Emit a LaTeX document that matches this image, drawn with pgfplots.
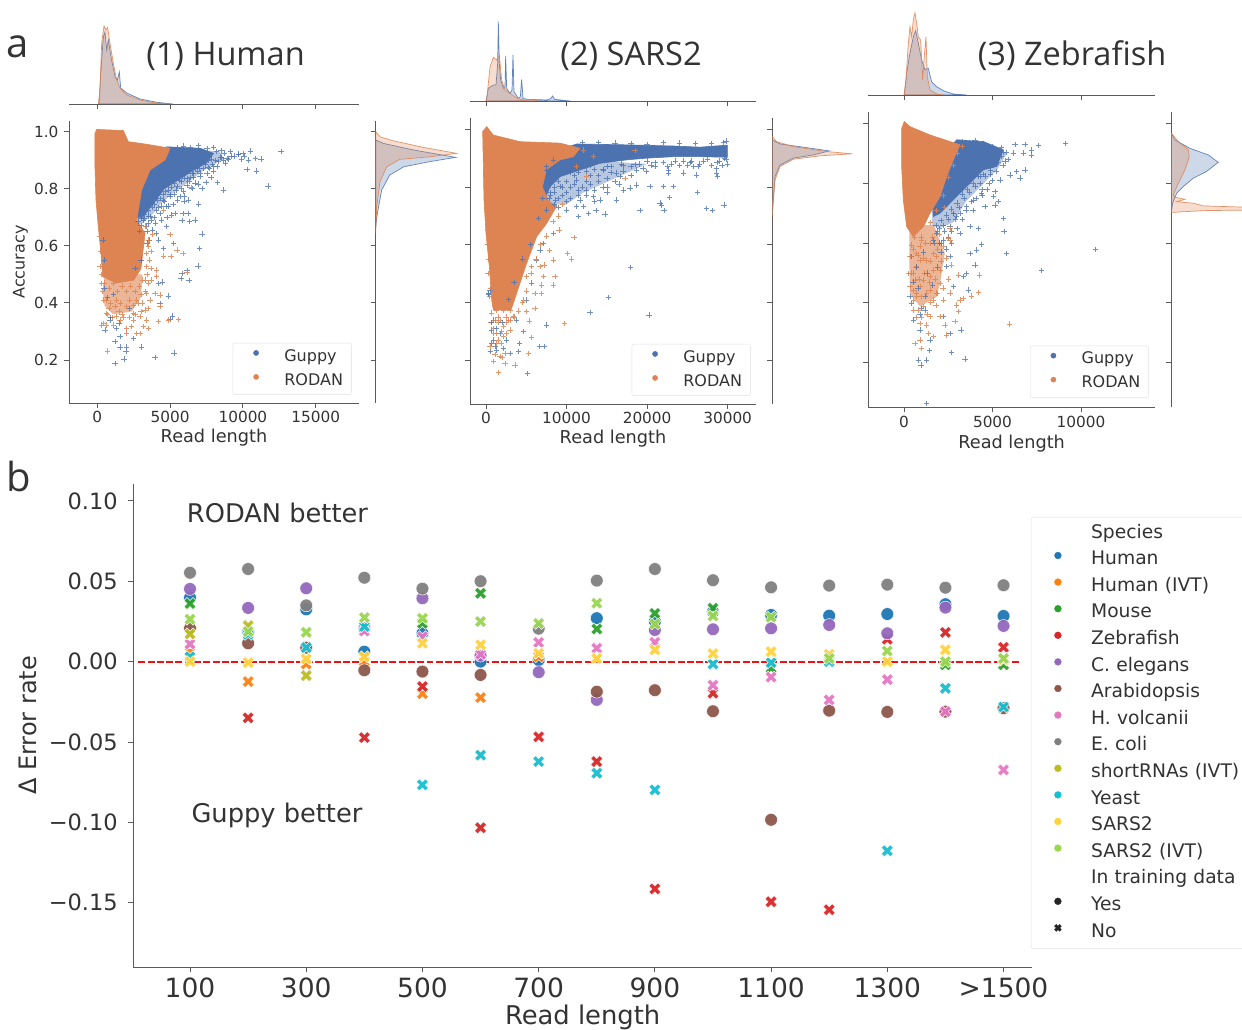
\documentclass[border=0pt]{standalone}
\usepackage{fontspec}
\setmainfont{DejaVu Sans}
\newfontfamily\osans{Open Sans}
\usepackage{pgfplots}
\pgfplotsset{compat=1.18}
\definecolor{txt}{HTML}{333333}
\definecolor{spine}{HTML}{5A5A5A}
\definecolor{gb}{HTML}{4C72B0}
\definecolor{ro}{HTML}{DD8452}
\definecolor{dashred}{HTML}{F41010}
\definecolor{cHuman}{HTML}{1F77B4}
\definecolor{cHIVT}{HTML}{FF7F0E}
\definecolor{cMouse}{HTML}{2CA02C}
\definecolor{cZebra}{HTML}{D62728}
\definecolor{cCel}{HTML}{9467BD}
\definecolor{cArab}{HTML}{8C564B}
\definecolor{cHvol}{HTML}{E377C2}
\definecolor{cEcoli}{HTML}{7F7F7F}
\definecolor{cShort}{HTML}{BCBD22}
\definecolor{cYeast}{HTML}{17BECF}
\definecolor{cSars}{HTML}{FFD23F}
\definecolor{cSarsI}{HTML}{9AD64E}
\pgfdeclareplotmark{bigX}{%
 \pgfpathmoveto{\pgfqpoint{-.5\pgfplotmarksize}{-1\pgfplotmarksize}}%
 \pgfpathlineto{\pgfqpoint{0pt}{-.5\pgfplotmarksize}}%
 \pgfpathlineto{\pgfqpoint{.5\pgfplotmarksize}{-1\pgfplotmarksize}}%
 \pgfpathlineto{\pgfqpoint{1\pgfplotmarksize}{-.5\pgfplotmarksize}}%
 \pgfpathlineto{\pgfqpoint{.5\pgfplotmarksize}{0pt}}%
 \pgfpathlineto{\pgfqpoint{1\pgfplotmarksize}{.5\pgfplotmarksize}}%
 \pgfpathlineto{\pgfqpoint{.5\pgfplotmarksize}{1\pgfplotmarksize}}%
 \pgfpathlineto{\pgfqpoint{0pt}{.5\pgfplotmarksize}}%
 \pgfpathlineto{\pgfqpoint{-.5\pgfplotmarksize}{1\pgfplotmarksize}}%
 \pgfpathlineto{\pgfqpoint{-1\pgfplotmarksize}{.5\pgfplotmarksize}}%
 \pgfpathlineto{\pgfqpoint{-.5\pgfplotmarksize}{0pt}}%
 \pgfpathlineto{\pgfqpoint{-1\pgfplotmarksize}{-.5\pgfplotmarksize}}%
 \pgfpathclose\pgfusepathqfillstroke}
\pgfplotsset{
 base/.style={scale only axis, axis line style={spine,line width=.9pt},
  tick style={spine,line width=.9pt}, major tick length=5pt, tick align=outside,
  clip=true, scaled ticks=false},
 main/.style={base, axis x line*=bottom, axis y line*=left,
  x tick label style={font=\fontsize{15.3}{18}\selectfont,text=txt},
  y tick label style={font=\fontsize{15.3}{18}\selectfont,text=txt,xshift=-2pt},
  xlabel style={font=\fontsize{17.7}{20}\selectfont,text=txt,at={(axis description cs:0.5,-.122)},anchor=center},
  ylabel style={font=\fontsize{16}{20}\selectfont,text=txt},
  legend cell align=left,
  legend image code/.code={\path (-23pt,0pt) (28pt,0pt); \draw[##1] plot coordinates {(0pt,4pt)};},
  legend style={anchor=north west,draw=black!12,rounded corners=2pt,fill=white,
   inner xsep=0pt, inner ysep=6pt, row sep=8.5pt, font=\fontsize{16}{18}\selectfont,text=txt,
   nodes={inner sep=0pt,text height=12pt,text depth=3.5pt,text width=67pt}}},
 gdot/.style={only marks,mark=*,mark size=2.6pt,mark options={draw=gb,fill=gb}},
 rdot/.style={only marks,mark=*,mark size=2.6pt,mark options={draw=ro,fill=ro}},
 plusb/.style={only marks,mark=+,mark size=2.7pt,mark options={draw=gb,line width=.6pt},opacity=.8,forget plot},
 pluso/.style={only marks,mark=+,mark size=2.7pt,mark options={draw=ro,line width=.6pt},opacity=.85,forget plot},
 solb/.style={fill=gb,draw=gb,line width=.6pt,forget plot},
 solo/.style={fill=ro,draw=ro,line width=.6pt,forget plot},
 kb/.style={fill=gb,fill opacity=.28,draw=gb,draw opacity=.85,line width=.7pt},
 ko/.style={fill=ro,fill opacity=.28,draw=ro,draw opacity=.85,line width=.7pt},
 top/.style={base, axis x line*=bottom, axis y line=none, ymin=0, ymax=100, height=100pt,
   xticklabels={}, ytick=\empty},
 rgt/.style={base, axis y line*=left, axis x line=none, xmin=0, xmax=90, width=90pt,
   yticklabels={}, xtick=\empty, ytick={.2,.4,.6,.8,1}},
 spO/.style={only marks,mark=*,mark size=6.4pt,mark options={fill=#1,draw=white,line width=.5pt},opacity=.95,forget plot},
 spX/.style={only marks,mark=bigX,mark size=6pt,mark options={fill=#1,draw=white,line width=.5pt},opacity=.95,forget plot},
 lgO/.style={only marks,mark=*,mark size=3.4pt,mark options={fill=#1,draw=#1}},
}
\begin{document}
\begin{tikzpicture}[x=1pt,y=1pt]
\path[use as bounding box,clip] (0,0) rectangle (1242pt,1029pt);

% ================= PANEL 1 =================
\begin{axis}[main, at={(69pt,626pt)}, anchor=south west, width=290pt, height=282pt,
 xmin=-1944, xmax=17974, ymin=.0494, ymax=1.0375,
 xtick={0,5000,10000,15000}, xticklabels={0,5000,10000,15000},
 ytick={.2,.4,.6,.8,1}, yticklabels={0.2,0.4,0.6,0.8,1.0},
 xlabel={Read length}, ylabel={Accuracy},
 ylabel style={at={(axis description cs:-.167,.5)},anchor=center},
 legend style={at={(.5645,.2128)}}]
\addplot[solb,fill opacity=.4,draw=none] coordinates {(5000,.945)(8400,.93)(8700,.905)(7300,.865)(6300,.825)(5200,.785)(4300,.745)(3700,.705)(3000,.675)(2000,.7)(2000,.9)} --cycle;
\addplot[solb] coordinates {(4772,.947)(7065,.942)(7983,.924)(7500,.89)(6600,.865)(5700,.835)(4600,.80)(3800,.745)(3100,.70)(2000,.7)(2000,.9)} --cycle;
\addplot[plusb] coordinates {(12617,.931)(11722,.810)(10942,.862)(10277,.868)(11241,.904)(10851,.907)(10392,.901)(10507,.933)(10002,.924)(9704,.922)(9130,.930)(8671,.796)(8258,.821)(7478,.821)(6951,.817)(6263,.761)(5964,.755)(6951,.746)(5873,.714)(6217,.714)(5116,.708)(5345,.714)(6721,.690)(6331,.685)(5804,.688)(7180,.641)(7020,.591)(5230,.609)(4542,.591)(4772,.667)(3808,.655)(4083,.644)(6905,.530)(6148,.513)(5804,.504)(5758,.485)(6309,.478)(4473,.473)(4886,.424)(4313,.398)(4198,.468)(5162,.354)(5001,.342)(3051,.246)(3969,.209)(5276,.225)(1216,.188)(1835,.204)(1973,.229)(1216,.264)(2019,.246)(2478,.276)(1560,.246)(528,.305)(872,.340)(1331,.311)(1560,.282)(8442,.912)(7983,.877)(8901,.907)(7524,.854)(7065,.842)(6607,.854)(6148,.813)(5460,.807)(5001,.772)(4542,.761)(4083,.725)(3625,.702)(3166,.690)(3395,.667)(4313,.714)(4772,.737)(5689,.772)(6836,.877)(8213,.877)(8671,.901)(7524,.942)(6951,.951)(9000,.905)(8500,.935)(8000,.945)(9400,.915)(7600,.900)(7300,.870)(6700,.820)(6400,.840)(5900,.790)(5300,.780)(4900,.815)(4400,.740)(3900,.700)(3500,.680)(3000,.672)(2900,.650)(8200,.93)(8700,.925)(9200,.915)(8800,.89)(8300,.895)(7800,.905)(7300,.92)(6800,.93)(6400,.945)(5900,.95)(5500,.945)(8000,.86)(7600,.875)(7100,.855)(6700,.87)(6200,.835)(5800,.825)(5300,.82)(4900,.795)(4500,.78)(4100,.76)(3800,.735)(3500,.725)(3200,.71)(3000,.695)(2800,.685)(3700,.755)(5600,.85)(6000,.86)(7300,.90)(8500,.91)(9700,.92)(10100,.915)(9900,.905)(8100,.90)(7000,.895)(6500,.885)(7900,.885)(7400,.885)(6900,.86)(6500,.855)(6000,.835)(5600,.83)(5100,.805)(4700,.79)(4300,.765)(3900,.745)(3500,.705)(3200,.695)(5400,.795)(5000,.78)(4600,.755)(4200,.735)(6300,.825)(5800,.80)(7000,.87)(7700,.87)(6600,.84)(5500,.76)(4900,.74)(3700,.69)(4000,.68)(4400,.69)(4800,.70)(5200,.745)(6000,.775)(6500,.80)(7200,.80)(7800,.84)(3400,.65)(3600,.62)(4200,.62)};
\addplot[solo,fill opacity=.6,draw=none] coordinates {(528,.50)(367,.45)(500,.39)(1101,.36)(2363,.37)(3000,.42)(3100,.50)} --cycle;
\addplot[solo] coordinates {(-160,.994)(-160,.877)(-92,.761)(69,.667)(252,.574)(367,.492)(1300,.47)(2500,.48)(3000,.52)(3280,.644)(2707,.690)(3051,.796)(3625,.866)(4657,.901)(5001,.942)(3395,.956)(2133,.965)(1789,1.004)(-46,1.008)} --cycle;
\addplot[pluso] coordinates {(711,.232)(4198,.334)(4886,.340)(5574,.342)(3510,.311)(2707,.293)(2019,.311)(1101,.322)(413,.328)(298,.322)(2936,.293)(2019,.293)(3395,.340)(3280,.375)(4313,.387)(4313,.428)(3969,.433)(3395,.433)(5460,.585)(5873,.574)(5070,.562)(4542,.564)(5001,.640)(6148,.506)(6423,.805)(4542,.725)(4083,.492)(4083,.515)(3395,.574)(3395,.527)(3739,.480)(1560,.340)(2478,.340)(2936,.352)(1331,.352)(642,.363)(413,.410)(298,.468)(184,.527)(184,.632)(2478,.363)(3625,.410)(3166,.317)(2363,.317)(642,.322)(1216,.387)(2019,.387)(2707,.410)(3500,.600)(3700,.520)(3300,.480)(3000,.430)(3500,.380)(1700,.360)(800,.380)(3800,.640)(500,.47)(800,.45)(1100,.47)(1400,.44)(1700,.46)(2000,.44)(2300,.46)(2600,.44)(2900,.46)(3100,.48)(600,.41)(900,.40)(1300,.41)(1600,.40)(2200,.41)(2500,.39)(2800,.40)(3100,.40)(3300,.44)(3500,.47)(700,.36)(1000,.35)(1500,.37)(1800,.35)(2200,.35)(2600,.36)(3000,.37)(3400,.50)(3600,.55)(3500,.62)(3300,.67)(3700,.58)(550,.53)(450,.56)(350,.60)(200,.58)(300,.50)(350,.44)};
\addplot[plusb] coordinates {(400,.62)(500,.55)(450,.45)(700,.42)(900,.35)(1100,.43)(2600,.52)(1500,.33)(2200,.38)(3000,.55)(3400,.61)};
\addlegendimage{gdot}\addlegendentry{Guppy}
\addlegendimage{rdot}\addlegendentry{RODAN}
\end{axis}

\begin{axis}[top, at={(69pt,925pt)}, anchor=south west, width=290pt,
 xmin=-1944, xmax=17974, xtick={0,5000,10000,15000}]
\addplot[kb] coordinates {(115,0)(252,34)(413,67)(528,72)(642,54)(757,64)(941,47)(1216,27)(1376,24)(1514,32)(1606,16)(2019,11)(2936,5)(4083,1.7)(5001,.3)(5200,0)} --cycle;
\addplot[ko] coordinates {(69,0)(184,14)(298,60.7)(459,78)(596,74)(711,76.7)(872,60.7)(1101,40.7)(1331,24)(1560,15.7)(2019,9)(2936,4)(3854,1.3)(4772,.3)(5000,0)} --cycle;
\end{axis}

\begin{axis}[rgt, at={(375.7pt,626pt)}, anchor=south west, height=282pt, ymin=.0494, ymax=1.0375]
\addplot[kb] coordinates {(0,.971)(7.7,.959)(37.7,.936)(80,.910)(54,.895)(28,.877)(14,.848)(6,.796)(1.7,.714)(0,.667)} --cycle;
\addplot[ko] coordinates {(0,1)(4.3,.982)(17.7,.968)(47.7,.945)(81,.924)(54,.912)(24,.903)(11,.877)(4.3,.825)(1,.737)(0,.644)} --cycle;
\end{axis}

% ================= PANEL 2 =================
\begin{axis}[main, at={(470.3pt,625pt)}, anchor=south west, width=285.4pt, height=286pt,
 xmin=-1949, xmax=33482, ymin=.0485, ymax=1.039,
 xtick={0,10000,20000,30000}, xticklabels={0,10000,20000,30000},
 ytick={.2,.4,.6,.8,1}, yticklabels={},
 xlabel={Read length},
 legend style={at={(.5655,.2098)}}]
\addplot[solb,fill opacity=.4,draw=none] coordinates {(6000,.90)(14000,.89)(20000,.88)(16000,.83)(12000,.78)(10000,.74)(7000,.74)} --cycle;
\addplot[solb] coordinates {(11255,.949)(17463,.946)(23255,.942)(26566,.938)(29959,.945)(29959,.903)(26566,.905)(23255,.905)(19945,.900)(17463,.894)(14152,.882)(11669,.859)(9186,.836)(7945,.801)(7117,.744)(5048,.732)(6000,.90)} --cycle;
\addplot[plusb] coordinates {(30000,.880)(28635,.865)(28635,.848)(28718,.836)(26360,.871)(25738,.871)(24497,.848)(26152,.842)(22635,.859)(22635,.848)(19945,.853)(18704,.859)(16221,.848)(16635,.836)(18704,.807)(20359,.801)(22014,.801)(23256,.801)(21600,.744)(22759,.763)(26235,.781)(29545,.738)(21807,.738)(22097,.718)(19118,.718)(27394,.726)(28097,.718)(14773,.706)(13655,.718)(12704,.709)(16221,.755)(17049,.790)(17876,.796)(14152,.755)(13324,.767)(11669,.755)(12083,.732)(11462,.697)(17959,.521)(15186,.417)(12911,.365)(20235,.357)(7531,.322)(6621,.247)(7241,.247)(4014,.230)(4138,.259)(4635,.299)(5131,.155)(2566,.270)(2152,.241)(579,.230)(703,.259)(910,.339)(290,.432)(497,.443)(5669,.467)(6704,.582)(6290,.547)(7117,.605)(8359,.640)(5048,.409)(3807,.339)(1738,.293)(2979,.224)(1324,.236)(703,.305)(9186,.801)(7531,.859)(8359,.894)(11255,.824)(12497,.790)(14566,.859)(11255,.732)(10014,.721)(15500,.870)(16800,.880)(18500,.878)(20500,.876)(22000,.885)(24500,.890)(25300,.885)(27000,.890)(28700,.885)(13000,.840)(14000,.820)(15000,.800)(10000,.780)(9000,.760)(29600,.900)(23000,.880)(12000,.870)(12000,.955)(14000,.955)(16000,.952)(18000,.95)(20000,.948)(22000,.955)(24000,.952)(26000,.95)(28000,.95)(29500,.955)(29800,.96)(13000,.875)(15000,.87)(17000,.875)(19000,.88)(21000,.885)(23500,.89)(25500,.89)(27500,.895)(29000,.89)(29800,.895)(10000,.86)(9000,.82)(8000,.78)(11000,.84)(12500,.82)(14500,.80)(10500,.80)(9500,.77)(8500,.74)(8500,.80)(13500,.79)(11500,.77)(16000,.82)(18000,.84)(7500,.87)(8500,.86)(9500,.85)(10500,.85)(11500,.85)(12500,.855)(13500,.86)(14500,.86)(15500,.85)(17000,.855)(18000,.87)(19500,.865)(8000,.83)(9000,.84)(10000,.82)(11000,.81)(12000,.80)(13000,.81)(14000,.84)(15000,.83)(16500,.81)(8500,.78)(9500,.80)(10500,.76)(11500,.79)(12500,.77)(13500,.75)(7800,.76)(9000,.73)(10000,.75)(15000,.78)(20000,.89)(21000,.87)(22500,.87)(24000,.875)(25000,.875)(26500,.88)(28000,.875)(29300,.875)(7000,.76)};
\addplot[solo] coordinates {(-414,.992)(83,1.009)(910,.980)(4221,.957)(9186,.952)(11669,.934)(10842,.905)(9186,.894)(7500,.86)(7000,.80)(7800,.75)(8800,.735)(7531,.674)(6290,.628)(5048,.536)(3807,.432)(3100,.374)(910,.374)(703,.409)(414,.524)(0,.640)(-248,.755)(-331,.871)} --cycle;
\addplot[pluso] coordinates {(10924,.625)(10097,.570)(10635,.551)(9062,.651)(8359,.547)(8566,.490)(8359,.461)(6911,.461)(6911,.432)(6083,.432)(5048,.368)(6083,.380)(5379,.336)(9724,.328)(3600,.184)(2359,.189)(1531,.157)(910,.195)(5255,.224)(497,.247)(1324,.293)(2152,.282)(5669,.279)(6704,.524)(7117,.490)(5669,.524)(5048,.490)(17256,.830)(13324,.905)(12083,.928)(18497,.926)(12497,.836)(11255,.871)(4635,.409)(1738,.339)(910,.311)(2566,.293)(2359,.224)(1738,.212)(703,.363)(1324,.374)(2152,.374)(2979,.374)(3393,.351)(910,.293)(1531,.270)(2152,.316)(2979,.305)(1117,.339)(2772,.339)(1945,.259)(600,.330)(1500,.330)(2500,.350)(1900,.300)(1300,.260)(1100,.220)(2000,.210)(250,.500)(150,.600)(400,.420)(9500,.74)(9000,.70)(8300,.68)(7500,.63)(6800,.60)(6200,.55)(5600,.50)(5000,.44)(4500,.40)(4000,.37)(600,.45)(500,.50)(300,.55)(200,.60)(150,.65)(1500,.35)(2500,.33)(3000,.34)(3500,.35)(7900,.58)(7200,.53)};
\addplot[plusb] coordinates {(300,.43)(700,.33)(1300,.31)(900,.27)(2000,.33)(1200,.25)(2800,.41)(3500,.47)(4500,.55)(5500,.60)(6500,.69)(7500,.72)(7700,.80)(8000,.77)(8600,.755)};
\addlegendimage{gdot}\addlegendentry{Guppy}
\addlegendimage{rdot}\addlegendentry{RODAN}
\end{axis}

\begin{axis}[top, at={(470.3pt,928pt)}, anchor=south west, width=285.4pt,
 xmin=-1949, xmax=33482, xtick={0,10000,20000,30000}]
\addplot[kb] coordinates {(0,0)(290,12.7)(910,16)(1241,16)(1448,37.7)(1531,79.3)(1655,37.7)(1821,21)(2152,12.7)(2359,14.3)(2441,45)(2566,12.7)(2979,7.7)(3228,11)(3352,46)(3476,9.3)(4014,2.7)(4262,4.3)(4428,21.7)(4593,2.7)(5048,1.7)(7531,1)(8028,2.3)(8276,5)(8524,1.7)(10014,.3)(10500,0)} --cycle;
\addplot[ko] coordinates {(0,0)(83,1)(497,34)(910,43.7)(1324,41)(1655,46)(1945,21)(2359,11)(2979,7.7)(3807,2.7)(4635,1)(5876,1.7)(6290,.7)(6500,0)} --cycle;
\end{axis}

\begin{axis}[rgt, at={(772.3pt,625pt)}, anchor=south west, height=286pt, ymin=.0485, ymax=1.039]
\addplot[kb] coordinates {(0,.963)(7.7,.949)(31,.938)(57,.925)(41,.911)(21,.900)(7.7,.876)(2.7,.836)(1,.755)(0,.709)} --cycle;
\addplot[ko] coordinates {(0,.975)(4.3,.957)(21,.940)(54,.923)(80,.915)(48,.908)(21,.896)(7.7,.871)(2.7,.824)(1,.755)(0,.697)} --cycle;
\end{axis}

% ================= PANEL 3 =================
\begin{axis}[main, at={(868.3pt,621.7pt)}, anchor=south west, width=286.7pt, height=295pt,
 xmin=-2015, xmax=14179, ymin=.049, ymax=1.039,
 xtick={0,5000,10000}, xticklabels={0,5000,10000},
 ytick={.2,.4,.6,.8,1}, yticklabels={},
 xlabel={Read length},
 legend style={at={(.564,.2088)}}]
\addplot[solb,fill opacity=.4,draw=none] coordinates {(3000,.95)(5000,.93)(5800,.90)(5300,.85)(4500,.80)(3500,.74)(2800,.67)(2000,.65)(1600,.66)(1500,.85)} --cycle;
\addplot[solb] coordinates {(2975,.946)(4482,.941)(5611,.913)(5235,.857)(4482,.846)(3540,.790)(2787,.745)(2034,.700)(1657,.689)(1500,.85)} --cycle;
\addplot[plusb] coordinates {(9133,.935)(7607,.927)(7212,.913)(7212,.896)(6835,.930)(6741,.902)(6270,.930)(6176,.902)(6835,.846)(6553,.818)(6365,.840)(5988,.829)(5423,.812)(5141,.773)(5046,.756)(5329,.739)(4576,.723)(5141,.728)(5611,.683)(5649,.639)(5800,.566)(10827,.579)(7777,.508)(4387,.596)(4199,.650)(3728,.655)(4105,.577)(3728,.566)(4011,.527)(3540,.499)(3351,.488)(2787,.454)(3634,.443)(3446,.211)(2693,.232)(1431,.239)(1280,.208)(810,.208)(960,.191)(1280,.062)(3220,.309)(2599,.297)(1469,.275)(904,.309)(527,.342)(433,.398)(339,.420)(433,.555)(2222,.353)(1186,.376)(2599,.555)(2410,.521)(3163,.633)(2975,.689)(3917,.745)(3540,.723)(2787,.700)(4387,.767)(4858,.857)(4293,.823)(5046,.890)(2599,.655)(2222,.611)(1845,.633)(1657,.611)(5900,.880)(5600,.860)(5200,.840)(4800,.800)(4400,.780)(3900,.710)(3300,.680)(3000,.650)(2500,.620)(2100,.570)(1900,.520)(4000,.945)(4500,.935)(5000,.925)(5500,.92)(5800,.905)(5500,.89)(5300,.87)(4900,.845)(4600,.825)(4300,.80)(4000,.79)(3700,.77)(3400,.75)(3100,.72)(2800,.70)(2500,.68)(2200,.66)(1900,.64)(3600,.83)(5700,.875)(3300,.94)(3700,.935)(2400,.58)(2700,.60)(2000,.60)(5600,.905)(5300,.895)(5000,.875)(4800,.86)(4500,.83)(4200,.825)(3900,.80)(3600,.78)(3300,.765)(3000,.735)(2700,.715)(2400,.695)(2100,.675)(1800,.66)(2900,.68)(3200,.70)(3500,.71)(3800,.74)(4100,.75)(4400,.76)(4700,.78)(5000,.81)(4900,.83)(2300,.64)(2700,.64)(2000,.65)};
\addplot[solo,fill opacity=.6,draw=none] coordinates {(300,.66)(1700,.66)(2300,.566)(2034,.465)(1845,.420)(904,.387)(339,.432)(301,.543)} --cycle;
\addplot[solo] coordinates {(-132,.985)(19,1.008)(339,.991)(1469,.963)(3163,.930)(2787,.879)(2410,.823)(2034,.756)(1469,.700)(1092,.655)(527,.622)(151,.655)(-38,.745)(-132,.857)} --cycle;
\addplot[pluso] coordinates {(5950,.329)(4256,.493)(4199,.434)(3822,.423)(3351,.415)(3163,.409)(3069,.493)(2693,.527)(2599,.611)(2504,.616)(2975,.392)(3069,.370)(2881,.336)(2410,.291)(1657,.286)(1375,.297)(904,.275)(621,.264)(998,.247)(2316,.325)(2034,.353)(1469,.353)(1280,.325)(904,.331)(527,.376)(339,.454)(245,.499)(339,.555)(433,.594)(716,.521)(1092,.476)(1469,.443)(1845,.432)(2034,.465)(1657,.510)(1280,.543)(1845,.555)(2222,.588)(716,.432)(1092,.387)(716,.566)(998,.611)(1657,.566)(1280,.432)(1657,.409)(621,.476)(904,.543)(1469,.599)(2034,.510)(527,.409)(904,.454)(1469,.488)(2599,.432)(2222,.409)(810,.376)(3300,.925)(3000,.90)(2800,.86)(2500,.82)(2200,.76)(1800,.71)(1500,.67)(1000,.62)(2300,.72)(2600,.65)(2400,.55)(2500,.48)(2200,.45)(1800,.39)(1300,.36)(1000,.35)(700,.35)(500,.44)(400,.50)(600,.62)(900,.59)(1200,.60)(1600,.62)(2000,.63)(500,.58)(800,.56)(1100,.55)(1500,.54)(1900,.58)(550,.50)(850,.48)(1150,.50)(1450,.47)(1750,.48)(2100,.54)(700,.42)(1000,.42)(1500,.40)(1900,.43)};
\addplot[plusb] coordinates {(800,.45)(1200,.42)(1000,.38)(1300,.50)(700,.52)(1100,.57)(1600,.46)(500,.47)(900,.36)(1700,.60)(2100,.60)};
\addlegendimage{gdot}\addlegendentry{Guppy}
\addlegendimage{rdot}\addlegendentry{RODAN}
\end{axis}

\begin{axis}[top, at={(868.3pt,934pt)}, anchor=south west, width=286.7pt,
 xmin=-2015, xmax=14179, xtick={0,5000,10000}]
\addplot[kb] coordinates {(19,0)(151,21.7)(301,38.3)(527,58.3)(659,64.3)(810,51.7)(998,35)(1186,25)(1375,26.7)(1563,13.3)(1845,8.3)(2222,4.3)(2787,1)(3540,0)} --cycle;
\addplot[ko] coordinates {(0,0)(113,15)(245,51.7)(339,68.3)(433,58.3)(527,75)(621,82.3)(716,71.7)(810,58.3)(942,55)(1055,15)(1130,35)(1243,58.3)(1318,18.3)(1469,5)(1845,1)(2222,0)} --cycle;
\end{axis}

\begin{axis}[rgt, at={(1171.3pt,621.7pt)}, anchor=south west, height=295pt, ymin=.049, ymax=1.039]
\addplot[kb] coordinates {(0,.969)(3.7,.946)(18.7,.918)(37,.896)(47,.871)(35,.840)(22,.818)(12,.790)(5.3,.767)(1.3,.734)(0,.700)} --cycle;
\addplot[ko] coordinates {(0,.969)(7,.941)(17,.913)(18,.890)(13.7,.846)(7,.801)(2,.762)(3.7,.754)(13.7,.747)(5.3,.739)(22,.734)(32,.725)(80,.720)(80,.711)(32,.709)(0,.703)} --cycle;
\end{axis}

% ================= PANEL b =================
\begin{axis}[base, at={(133.3pt,62pt)}, anchor=south west, width=898.7pt, height=483pt,
 axis x line*=bottom, axis y line*=left,
 xmin=-.976, xmax=14.49, ymin=-.19, ymax=.1105,
 xtick={0,2,4,6,8,10,12,14}, xticklabels={100,300,500,700,900,1100,1300,>1500},
 ytick={-.15,-.1,-.05,0,.05,.1}, yticklabels={−0.15,−0.10,−0.05,0.00,0.05,0.10},
 x tick label style={font=\fontsize{26.5}{28}\selectfont,text=txt,yshift=-2pt},
 y tick label style={font=\fontsize{22.5}{26}\selectfont,text=txt,xshift=-7pt},
 xlabel={Read length}, ylabel={Δ Error rate},
 xlabel style={font=\fontsize{25.8}{28}\selectfont,text=txt,at={(axis description cs:.5,-.1035)},anchor=center},
 ylabel style={font=\fontsize{24}{28}\selectfont,text=txt,at={(axis description cs:-.117,.5)},anchor=center},
 legend cell align=left,
 legend image code/.code={\path (-26.5pt,0pt) (33pt,0pt); \draw[#1] plot coordinates {(0pt,4.5pt)};},
 legend style={at={(.9989,.9317)},anchor=north west,draw=black!12,rounded corners=2pt,fill=white,
  inner xsep=0pt,inner ysep=7pt,row sep=8.2pt,font=\fontsize{18.7}{20}\selectfont,text=txt,
  nodes={inner sep=0pt,text height=14pt,text depth=4.4pt,text width=190pt}}]
\addplot[spO=cHuman] coordinates {(0,.0398)(1,.019)(2,.0325)(3,.0062)(4,.0176)(5,0)(6,.001)(7,.027)(8,.025)(9,.031)(10,.029)(11,.0286)(12,.0296)(13,.0357)(14,.0284)};
\addplot[spX=cHIVT] coordinates {(0,.006)(1,-.0124)(2,-.0015)(3,0)(4,-.02)(5,-.0224)(6,.003)};
\addplot[spX=cMouse] coordinates {(0,.0361)(4,.0238)(5,.0425)(7,.0203)(8,.03)(9,.0332)(10,-.0041)(13,-.002)(14,-.002)};
\addplot[spX=cZebra] coordinates {(1,-.035)(3,-.0473)(4,-.0155)(5,-.1034)(6,-.0468)(7,-.0622)(8,-.1414)(9,-.0197)(10,-.1494)(11,-.1544)(12,.0139)(13,.0182)(14,.0089)};
\addplot[spO=cCel] coordinates {(0,.0452)(1,.0334)(2,.0456)(3,.0207)(4,.0394)(5,.0037)(6,-.0066)(7,-.0238)(8,.0197)(9,.0201)(10,.0207)(11,.0228)(12,.0176)(13,.0336)(14,.0222)};
\addplot[spO=cArab] coordinates {(0,.0207)(1,.0114)(2,.0087)(3,-.0054)(4,-.0062)(5,-.0083)(7,-.0187)(8,-.0178)(9,-.0309)(10,-.0984)(11,-.0305)(12,-.0313)(13,-.0311)(14,-.029)};
\addplot[spX=cHvol] coordinates {(0,.011)(2,.0087)(3,.019)(4,.0155)(5,.0045)(6,.012)(7,.0083)(8,.012)(9,-.0147)(10,-.0097)(11,-.0238)(12,-.0112)(13,-.0311)(14,-.0674)};
\addplot[spO=cEcoli] coordinates {(0,.0553)(1,.0576)(2,.035)(3,.0522)(4,.0454)(5,.05)(6,.0205)(7,.0504)(8,.0576)(9,.0506)(10,.0462)(11,.0473)(12,.0479)(13,.046)(14,.0475)};
\addplot[spX=cShort] coordinates {(0,.0172)(1,.0224)(2,-.0087)};
\addplot[spX=cYeast] coordinates {(0,.003)(1,.017)(2,.0087)(3,.0218)(4,-.0767)(5,-.0582)(6,-.0622)(7,-.0694)(8,-.0798)(9,-.0015)(10,-.0006)(11,0)(12,-.1177)(13,-.0166)(14,-.0282)};
\addplot[spX=cSars] coordinates {(0,0)(1,-.0006)(2,.0017)(3,.003)(4,.0114)(5,.0104)(6,.0052)(7,.002)(8,.0073)(9,.005)(10,.0062)(11,.0046)(12,0)(13,.0073)(14,.001)};
\addplot[spX=cSarsI] coordinates {(0,.0263)(1,.0187)(2,.0182)(3,.0274)(4,.027)(5,.0249)(6,.0238)(7,.0363)(8,.0234)(9,.0284)(10,.0276)(11,.002)(12,.0066)(13,0)(14,.002)};
\pgfplotsinvokeforeach{-.89,-.73,-.57,-.41,-.25,-.09,.07,.23,.39,.55,.71,.87,1.03,1.19,1.35,1.51,1.67,1.83,1.99,2.15,2.31,2.47,2.63,2.79,2.95,3.11,3.27,3.43,3.59,3.75,3.91,4.07,4.23,4.39,4.55,4.71,4.87,5.03,5.19,5.35,5.51,5.67,5.83,5.99,6.15,6.31,6.47,6.63,6.79,6.95,7.11,7.27,7.43,7.59,7.75,7.91,8.07,8.23,8.39,8.55,8.71,8.87,9.03,9.19,9.35,9.51,9.67,9.83,9.99,10.15,10.31,10.47,10.63,10.79,10.95,11.11,11.27,11.43,11.59,11.75,11.91,12.07,12.23,12.39,12.55,12.71,12.87,13.03,13.19,13.35,13.51,13.67,13.83,13.99,14.15}{
 \addplot[fill=dashred,draw=none,forget plot] table[row sep=\\,x expr=\thisrowno{0}+#1,y index=1] {dx y\\0 -.00065\\.12 -.00065\\.12 .00065\\0 .00065\\} --cycle;
}
\addlegendimage{empty legend}\addlegendentry{Species}
\addlegendimage{lgO=cHuman}\addlegendentry{Human}
\addlegendimage{lgO=cHIVT}\addlegendentry{Human (IVT)}
\addlegendimage{lgO=cMouse}\addlegendentry{Mouse}
\addlegendimage{lgO=cZebra}\addlegendentry{Zebrafish}
\addlegendimage{lgO=cCel}\addlegendentry{C. elegans}
\addlegendimage{lgO=cArab}\addlegendentry{Arabidopsis}
\addlegendimage{lgO=cHvol}\addlegendentry{H. volcanii}
\addlegendimage{lgO=cEcoli}\addlegendentry{E. coli}
\addlegendimage{lgO=cShort}\addlegendentry{shortRNAs (IVT)}
\addlegendimage{lgO=cYeast}\addlegendentry{Yeast}
\addlegendimage{lgO=cSars}\addlegendentry{SARS2}
\addlegendimage{lgO=cSarsI}\addlegendentry{SARS2 (IVT)}
\addlegendimage{empty legend}\addlegendentry{In training data}
\addlegendimage{only marks,mark=*,mark size=3.4pt,mark options={fill=black!85,draw=black!85}}\addlegendentry{Yes}
\addlegendimage{only marks,mark=bigX,mark size=3.4pt,mark options={fill=black!85,draw=black!85}}\addlegendentry{No}
\end{axis}

% ================= text =================
\node[text=txt,font=\osans\fontsize{40}{44}\selectfont,anchor=center] at (18pt,982pt) {a};
\node[text=txt,font=\osans\fontsize{40}{44}\selectfont,anchor=center] at (19pt,552pt) {b};
\node[text=txt,font=\osans\fontsize{32.5}{36}\selectfont,anchor=center] at (225.5pt,973pt) {(1) Human};
\node[text=txt,font=\osans\fontsize{32.5}{36}\selectfont,anchor=center] at (631pt,973pt) {(2) SARS2};
\node[text=txt,font=\osans\fontsize{32.5}{36}\selectfont,anchor=center] at (1072pt,973pt) {(3) Zebrafish};
\node[text=txt,font=\fontsize{25.7}{28}\selectfont,anchor=center] at (277.5pt,516pt) {RODAN better};
\node[text=txt,font=\fontsize{25.7}{28}\selectfont,anchor=center] at (277pt,214pt) {Guppy better};
\end{tikzpicture}
\end{document}
